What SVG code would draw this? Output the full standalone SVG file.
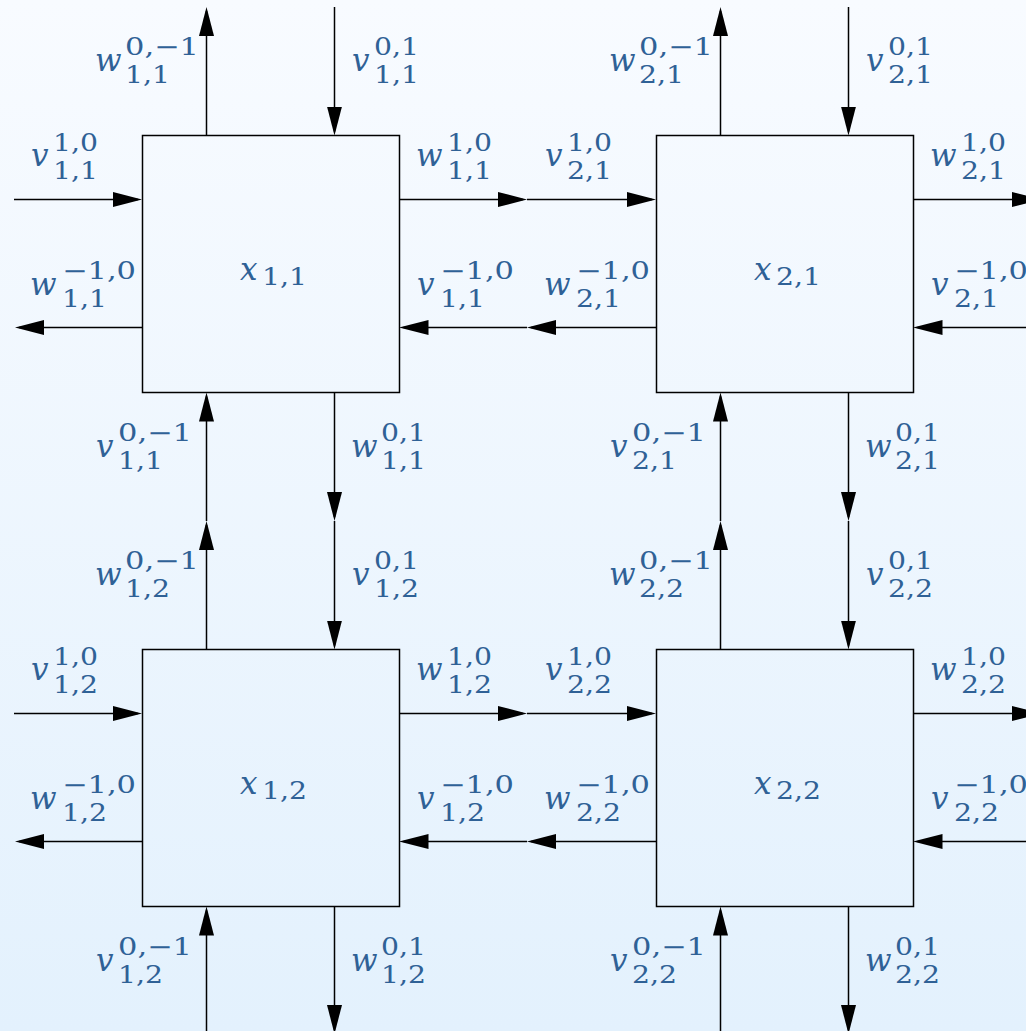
<svg xmlns="http://www.w3.org/2000/svg" width="1026" height="1031" viewBox="0 0 1026 1031">
<defs>
<linearGradient id="bg" x1="0" y1="0" x2="0" y2="1">
<stop offset="0" stop-color="#f8fbff"/>
<stop offset="1" stop-color="#e3f1fd"/>
</linearGradient>
<marker id="ah" viewBox="0 0 29 15" refX="25" refY="7.5" markerWidth="29" markerHeight="15" markerUnits="userSpaceOnUse" orient="auto">
<path d="M0,0 L29,7.5 L0,15 Z" fill="#000"/>
</marker>
<style>
.box{fill:none;stroke:#000;stroke-width:1.5}
.c{fill:none;stroke:#000;stroke-width:1.5;marker-end:url(#ah)}
.m{font-family:'DejaVu Serif',serif;font-style:italic;font-size:31px;fill:#2f6196}
.s{font-family:'DejaVu Serif',serif;font-size:24px;fill:#2f6196}
</style>
</defs>
<rect x="0" y="0" width="1026" height="1031" fill="url(#bg)"/>

<g id="connectors">
<path class="c" d="M14,199.5 H138"/>
<path class="c" d="M399.5,199.5 H523"/>
<path class="c" d="M527,199.5 H652"/>
<path class="c" d="M913.5,199.5 H1037"/>
<path class="c" d="M142.5,327.5 H19"/>
<path class="c" d="M527,327.5 H403.5"/>
<path class="c" d="M656,327.5 H531"/>
<path class="c" d="M1041,327.5 H917.5"/>
<path class="c" d="M14,713.5 H138"/>
<path class="c" d="M399.5,713.5 H523"/>
<path class="c" d="M527,713.5 H652"/>
<path class="c" d="M913.5,713.5 H1037"/>
<path class="c" d="M142.5,841.5 H19"/>
<path class="c" d="M527,841.5 H403.5"/>
<path class="c" d="M656,841.5 H531"/>
<path class="c" d="M1041,841.5 H917.5"/>
<path class="c" d="M206.5,135.5 V11"/>
<path class="c" d="M206.5,521 V396.5"/>
<path class="c" d="M206.5,649.5 V525"/>
<path class="c" d="M206.5,1040 V910.5"/>
<path class="c" d="M334.5,7 V131.5"/>
<path class="c" d="M334.5,392.5 V517"/>
<path class="c" d="M334.5,521 V645.5"/>
<path class="c" d="M334.5,906.5 V1030"/>
<path class="c" d="M720.5,135.5 V11"/>
<path class="c" d="M720.5,521 V396.5"/>
<path class="c" d="M720.5,649.5 V525"/>
<path class="c" d="M720.5,1040 V910.5"/>
<path class="c" d="M848.5,7 V131.5"/>
<path class="c" d="M848.5,392.5 V517"/>
<path class="c" d="M848.5,521 V645.5"/>
<path class="c" d="M848.5,906.5 V1030"/>
</g>

<g id="node-x11">
<rect class="box" x="142.5" y="135.5" width="257" height="257"/>
<text><tspan class="m" x="240" y="280">x</tspan><tspan class="s" x="262" y="285" textLength="45" lengthAdjust="spacingAndGlyphs">1,1</tspan></text>
</g>
<g id="node-x21">
<rect class="box" x="656.5" y="135.5" width="257" height="257"/>
<text><tspan class="m" x="754" y="280">x</tspan><tspan class="s" x="776" y="285" textLength="45" lengthAdjust="spacingAndGlyphs">2,1</tspan></text>
</g>
<g id="node-x12">
<rect class="box" x="142.5" y="649.5" width="257" height="257"/>
<text><tspan class="m" x="240" y="794">x</tspan><tspan class="s" x="262" y="799" textLength="45" lengthAdjust="spacingAndGlyphs">1,2</tspan></text>
</g>
<g id="node-x22">
<rect class="box" x="656.5" y="649.5" width="257" height="257"/>
<text><tspan class="m" x="754" y="794">x</tspan><tspan class="s" x="776" y="799" textLength="45" lengthAdjust="spacingAndGlyphs">2,2</tspan></text>
</g>

<g id="labels" lengthAdjust="spacingAndGlyphs">
<text><tspan class="m" x="95" y="71">w</tspan><tspan class="s" x="125" y="55" textLength="74" lengthAdjust="spacingAndGlyphs">0,−1</tspan><tspan class="s" x="125" y="83" textLength="45" lengthAdjust="spacingAndGlyphs">1,1</tspan></text>
<text><tspan class="m" x="352" y="71">v</tspan><tspan class="s" x="374" y="55" textLength="45" lengthAdjust="spacingAndGlyphs">0,1</tspan><tspan class="s" x="374" y="83" textLength="45" lengthAdjust="spacingAndGlyphs">1,1</tspan></text>
<text><tspan class="m" x="31" y="166">v</tspan><tspan class="s" x="53" y="151" textLength="45" lengthAdjust="spacingAndGlyphs">1,0</tspan><tspan class="s" x="53" y="179" textLength="45" lengthAdjust="spacingAndGlyphs">1,1</tspan></text>
<text><tspan class="m" x="30" y="295">w</tspan><tspan class="s" x="62" y="279" textLength="74" lengthAdjust="spacingAndGlyphs">−1,0</tspan><tspan class="s" x="62" y="307" textLength="45" lengthAdjust="spacingAndGlyphs">1,1</tspan></text>
<text><tspan class="m" x="416" y="166">w</tspan><tspan class="s" x="447" y="151" textLength="45" lengthAdjust="spacingAndGlyphs">1,0</tspan><tspan class="s" x="447" y="179" textLength="45" lengthAdjust="spacingAndGlyphs">1,1</tspan></text>
<text><tspan class="m" x="417" y="295">v</tspan><tspan class="s" x="440" y="279" textLength="74" lengthAdjust="spacingAndGlyphs">−1,0</tspan><tspan class="s" x="440" y="307" textLength="45" lengthAdjust="spacingAndGlyphs">1,1</tspan></text>
<text><tspan class="m" x="96" y="457">v</tspan><tspan class="s" x="118" y="441" textLength="74" lengthAdjust="spacingAndGlyphs">0,−1</tspan><tspan class="s" x="118" y="469" textLength="45" lengthAdjust="spacingAndGlyphs">1,1</tspan></text>
<text><tspan class="m" x="351" y="457">w</tspan><tspan class="s" x="381" y="441" textLength="45" lengthAdjust="spacingAndGlyphs">0,1</tspan><tspan class="s" x="381" y="469" textLength="45" lengthAdjust="spacingAndGlyphs">1,1</tspan></text>

<text><tspan class="m" x="609" y="71">w</tspan><tspan class="s" x="639" y="55" textLength="74" lengthAdjust="spacingAndGlyphs">0,−1</tspan><tspan class="s" x="639" y="83" textLength="45" lengthAdjust="spacingAndGlyphs">2,1</tspan></text>
<text><tspan class="m" x="866" y="71">v</tspan><tspan class="s" x="888" y="55" textLength="45" lengthAdjust="spacingAndGlyphs">0,1</tspan><tspan class="s" x="888" y="83" textLength="45" lengthAdjust="spacingAndGlyphs">2,1</tspan></text>
<text><tspan class="m" x="545" y="166">v</tspan><tspan class="s" x="567" y="151" textLength="45" lengthAdjust="spacingAndGlyphs">1,0</tspan><tspan class="s" x="567" y="179" textLength="45" lengthAdjust="spacingAndGlyphs">2,1</tspan></text>
<text><tspan class="m" x="544" y="295">w</tspan><tspan class="s" x="576" y="279" textLength="74" lengthAdjust="spacingAndGlyphs">−1,0</tspan><tspan class="s" x="576" y="307" textLength="45" lengthAdjust="spacingAndGlyphs">2,1</tspan></text>
<text><tspan class="m" x="930" y="166">w</tspan><tspan class="s" x="961" y="151" textLength="45" lengthAdjust="spacingAndGlyphs">1,0</tspan><tspan class="s" x="961" y="179" textLength="45" lengthAdjust="spacingAndGlyphs">2,1</tspan></text>
<text><tspan class="m" x="931" y="295">v</tspan><tspan class="s" x="954" y="279" textLength="74" lengthAdjust="spacingAndGlyphs">−1,0</tspan><tspan class="s" x="954" y="307" textLength="45" lengthAdjust="spacingAndGlyphs">2,1</tspan></text>
<text><tspan class="m" x="610" y="457">v</tspan><tspan class="s" x="632" y="441" textLength="74" lengthAdjust="spacingAndGlyphs">0,−1</tspan><tspan class="s" x="632" y="469" textLength="45" lengthAdjust="spacingAndGlyphs">2,1</tspan></text>
<text><tspan class="m" x="865" y="457">w</tspan><tspan class="s" x="895" y="441" textLength="45" lengthAdjust="spacingAndGlyphs">0,1</tspan><tspan class="s" x="895" y="469" textLength="45" lengthAdjust="spacingAndGlyphs">2,1</tspan></text>

<text><tspan class="m" x="95" y="585">w</tspan><tspan class="s" x="125" y="569" textLength="74" lengthAdjust="spacingAndGlyphs">0,−1</tspan><tspan class="s" x="125" y="597" textLength="45" lengthAdjust="spacingAndGlyphs">1,2</tspan></text>
<text><tspan class="m" x="352" y="585">v</tspan><tspan class="s" x="374" y="569" textLength="45" lengthAdjust="spacingAndGlyphs">0,1</tspan><tspan class="s" x="374" y="597" textLength="45" lengthAdjust="spacingAndGlyphs">1,2</tspan></text>
<text><tspan class="m" x="31" y="680">v</tspan><tspan class="s" x="53" y="665" textLength="45" lengthAdjust="spacingAndGlyphs">1,0</tspan><tspan class="s" x="53" y="693" textLength="45" lengthAdjust="spacingAndGlyphs">1,2</tspan></text>
<text><tspan class="m" x="30" y="809">w</tspan><tspan class="s" x="62" y="793" textLength="74" lengthAdjust="spacingAndGlyphs">−1,0</tspan><tspan class="s" x="62" y="821" textLength="45" lengthAdjust="spacingAndGlyphs">1,2</tspan></text>
<text><tspan class="m" x="416" y="680">w</tspan><tspan class="s" x="447" y="665" textLength="45" lengthAdjust="spacingAndGlyphs">1,0</tspan><tspan class="s" x="447" y="693" textLength="45" lengthAdjust="spacingAndGlyphs">1,2</tspan></text>
<text><tspan class="m" x="417" y="809">v</tspan><tspan class="s" x="440" y="793" textLength="74" lengthAdjust="spacingAndGlyphs">−1,0</tspan><tspan class="s" x="440" y="821" textLength="45" lengthAdjust="spacingAndGlyphs">1,2</tspan></text>
<text><tspan class="m" x="96" y="971">v</tspan><tspan class="s" x="118" y="955" textLength="74" lengthAdjust="spacingAndGlyphs">0,−1</tspan><tspan class="s" x="118" y="983" textLength="45" lengthAdjust="spacingAndGlyphs">1,2</tspan></text>
<text><tspan class="m" x="351" y="971">w</tspan><tspan class="s" x="381" y="955" textLength="45" lengthAdjust="spacingAndGlyphs">0,1</tspan><tspan class="s" x="381" y="983" textLength="45" lengthAdjust="spacingAndGlyphs">1,2</tspan></text>

<text><tspan class="m" x="609" y="585">w</tspan><tspan class="s" x="639" y="569" textLength="74" lengthAdjust="spacingAndGlyphs">0,−1</tspan><tspan class="s" x="639" y="597" textLength="45" lengthAdjust="spacingAndGlyphs">2,2</tspan></text>
<text><tspan class="m" x="866" y="585">v</tspan><tspan class="s" x="888" y="569" textLength="45" lengthAdjust="spacingAndGlyphs">0,1</tspan><tspan class="s" x="888" y="597" textLength="45" lengthAdjust="spacingAndGlyphs">2,2</tspan></text>
<text><tspan class="m" x="545" y="680">v</tspan><tspan class="s" x="567" y="665" textLength="45" lengthAdjust="spacingAndGlyphs">1,0</tspan><tspan class="s" x="567" y="693" textLength="45" lengthAdjust="spacingAndGlyphs">2,2</tspan></text>
<text><tspan class="m" x="544" y="809">w</tspan><tspan class="s" x="576" y="793" textLength="74" lengthAdjust="spacingAndGlyphs">−1,0</tspan><tspan class="s" x="576" y="821" textLength="45" lengthAdjust="spacingAndGlyphs">2,2</tspan></text>
<text><tspan class="m" x="930" y="680">w</tspan><tspan class="s" x="961" y="665" textLength="45" lengthAdjust="spacingAndGlyphs">1,0</tspan><tspan class="s" x="961" y="693" textLength="45" lengthAdjust="spacingAndGlyphs">2,2</tspan></text>
<text><tspan class="m" x="931" y="809">v</tspan><tspan class="s" x="954" y="793" textLength="74" lengthAdjust="spacingAndGlyphs">−1,0</tspan><tspan class="s" x="954" y="821" textLength="45" lengthAdjust="spacingAndGlyphs">2,2</tspan></text>
<text><tspan class="m" x="610" y="971">v</tspan><tspan class="s" x="632" y="955" textLength="74" lengthAdjust="spacingAndGlyphs">0,−1</tspan><tspan class="s" x="632" y="983" textLength="45" lengthAdjust="spacingAndGlyphs">2,2</tspan></text>
<text><tspan class="m" x="865" y="971">w</tspan><tspan class="s" x="895" y="955" textLength="45" lengthAdjust="spacingAndGlyphs">0,1</tspan><tspan class="s" x="895" y="983" textLength="45" lengthAdjust="spacingAndGlyphs">2,2</tspan></text>
</g>
</svg>
